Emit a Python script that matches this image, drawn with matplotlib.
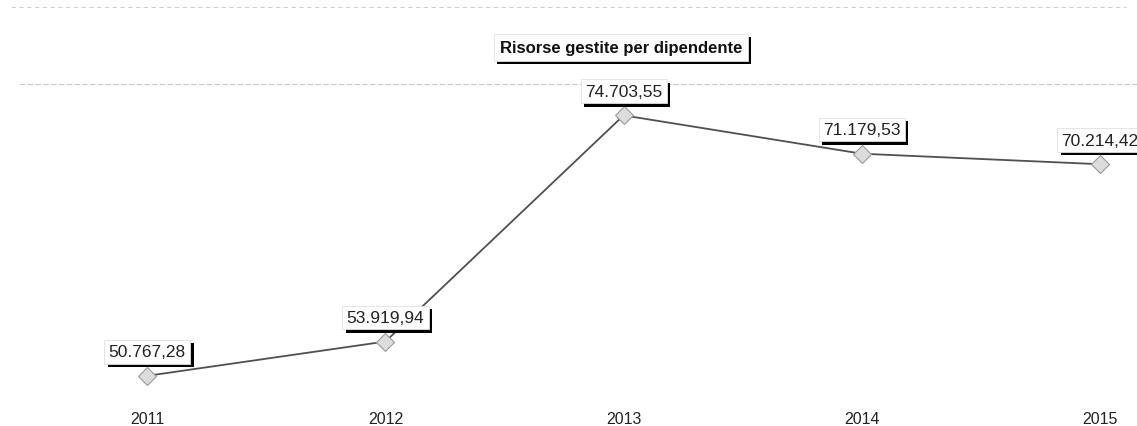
import matplotlib.pyplot as plt
import matplotlib.patheffects as pe

years = ["2011", "2012", "2013", "2014", "2015"]
values = [50767.28, 53919.94, 74703.55, 71179.53, 70214.42]
labels = ["50.767,28", "53.919,94", "74.703,55", "71.179,53", "70.214,42"]
title = "Risorse gestite per dipendente"

plt.rcParams['font.family'] = ['Liberation Sans', 'DejaVu Sans']

fig = plt.figure(figsize=(11.37, 4.27), dpi=100)
ax = fig.add_axes([0.0176, 0.075, 0.9824, 0.725])

x = list(range(len(years)))
ax.plot(x, values, color="#505050", linewidth=1.3, zorder=2)
ax.plot(x, values, linestyle="none", marker="D", markersize=9,
        markerfacecolor="#dcdcdc", markeredgecolor="#9a9a9a",
        markeredgewidth=0.8, zorder=3)

shadow = [pe.SimplePatchShadow(offset=(2.5, -2.5), shadow_rgbFace="black", alpha=1.0),
          pe.Normal()]

for xi, v, lab in zip(x, values, labels):
    t = ax.annotate(lab, (xi, v), xytext=(0, 12), textcoords="offset points",
                    ha="center", va="bottom", fontsize=12.5, color="#222222",
                    bbox=dict(boxstyle="square,pad=0.25", facecolor="white",
                              edgecolor="#e0e0e0", linewidth=0.6),
                    zorder=4, annotation_clip=False)
    t.get_bbox_patch().set_path_effects(shadow)

ax.set_xlim(-0.534, 4.155)
ax.set_ylim(49100, 77550)
ax.set_xticks(x)
ax.set_xticklabels(years, fontsize=11.5, color="#222222")
ax.tick_params(axis="x", length=0, pad=12)
ax.set_yticks([])
for s in ["left", "right", "bottom"]:
    ax.spines[s].set_visible(False)
ax.spines["top"].set_linestyle((0, (4, 3)))
ax.spines["top"].set_color("#c8c8c8")
ax.spines["top"].set_linewidth(0.8)

# outer chart frame line (faint)
fig.add_artist(plt.Line2D([0.01, 0.99], [0.982, 0.982], color="#d0d0d0",
                          linewidth=0.8, linestyle=(0, (4, 3))))

tt = fig.text(0.546, 0.887, title, ha="center", va="center", fontsize=12,
              fontweight="bold", color="#111111",
              bbox=dict(boxstyle="square,pad=0.35", facecolor="white",
                        edgecolor="#e0e0e0", linewidth=0.6))
tt.get_bbox_patch().set_path_effects(shadow)

fig.savefig("out.png", dpi=100)
